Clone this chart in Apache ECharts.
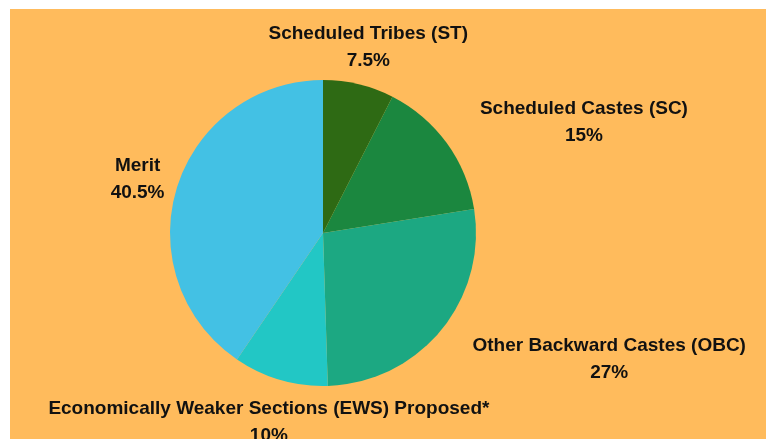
<!DOCTYPE html>
<html>
<head>
<meta charset="utf-8">
<script src="https://cdn.jsdelivr.net/npm/echarts@6/dist/echarts.min.js"></script>
<style>
    html, body { margin: 0; padding: 0; background: #fff; }
    #chart { position: absolute; left: 10px; top: 9px; width: 756px; height: 430px; }
</style>
</head>
<body>
<div id="chart"></div>
<script>
const categories = [
    'Scheduled Tribes (ST)',
    'Scheduled Castes (SC)',
    'Other Backward Castes (OBC)',
    'Economically Weaker Sections (EWS) Proposed*',
    'Merit'
];
const shares = [7.5, 15, 27, 10, 40.5];
const colors = ['#2E6A14', '#1B873F', '#1CA882', '#22C7C5', '#43C1E4'];

const pieCenter = [313, 224];
const pieRadius = 153;

let chart = echarts.init(document.getElementById('chart'));

let pieData = categories.map(function (name, i) {
    return { name: name, value: shares[i] };
});

// labels sit centred on a ring outside the pie; if a label would cover the pie
// it is pushed sideways so that its inner edge starts at the ring point
function pushOffPie(params) {
    let r = params.labelRect;
    let lx = r.x + r.width / 2;
    let nx = Math.max(r.x, Math.min(pieCenter[0], r.x + r.width));
    let ny = Math.max(r.y, Math.min(pieCenter[1], r.y + r.height));
    let d = Math.hypot(nx - pieCenter[0], ny - pieCenter[1]);
    if (d >= pieRadius) {
        return { dy: 3 };
    }
    let side = lx >= pieCenter[0] ? 1 : -1;
    return { dx: side * r.width / 2, dy: 3 };
}

let option = {
    backgroundColor: '#FFBB5C',
    color: colors,
    textStyle: { fontFamily: 'Liberation Sans, Arial, sans-serif' },
    series: [
        {
            type: 'pie',
            center: pieCenter,
            radius: [0, pieRadius],
            startAngle: 90,
            clockwise: true,
            silent: true,
            label: { show: false },
            labelLine: { show: false },
            data: pieData
        },
        {
            // invisible ring used only to place the labels
            type: 'pie',
            center: pieCenter,
            radius: [186, 196],
            startAngle: 90,
            clockwise: true,
            silent: true,
            itemStyle: { color: 'rgba(0,0,0,0)' },
            label: {
                show: true,
                position: 'inside',
                color: '#111',
                fontWeight: 'bold',
                fontSize: 19,
                lineHeight: 27,
                align: 'center',
                formatter: function (p) { return p.name + '\n' + p.value + '%'; }
            },
            labelLine: { show: false },
            labelLayout: pushOffPie,
            data: pieData
        }
    ]
};
chart.setOption(option);
</script>
</body>
</html>
